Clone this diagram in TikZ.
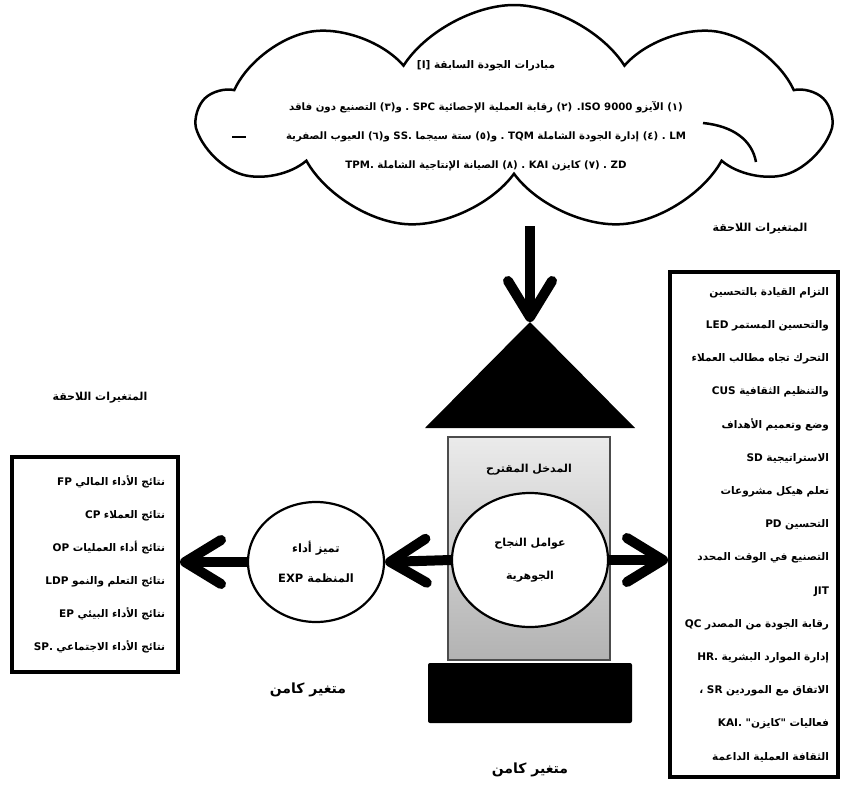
\documentclass[tikz,border=0pt]{standalone}
\usepackage{fontspec}
\usetikzlibrary{shapes.symbols,shapes.geometric,arrows.meta}
\newfontfamily\arabicfont[Script=Arabic]{DejaVu Sans}
\TeXXeTstate=1
\newcommand\AR[1]{\beginR #1\endR}
\newcommand\LT[1]{\beginL #1\endL{}}
\begin{document}
\begin{tikzpicture}[x=1pt,y=-1pt,
  ar/.style={font=\arabicfont\bfseries\fontsize{10.5}{12}\selectfont, align=center, inner sep=1pt},
  arsmall/.style={font=\arabicfont\bfseries\fontsize{11}{13}\selectfont, inner sep=1pt},
  arbig/.style={font=\arabicfont\bfseries\fontsize{14}{16}\selectfont, inner sep=1pt},
  listbox/.style={draw, line width=4pt, align=right, inner sep=3pt},
  oval/.style={ellipse, draw, line width=2.2pt, fill=white, align=center, inner sep=0pt},
  bigarrow/.style={line width=10pt, -{Straight Barb[length=36pt,width=44pt,round]}}
]
\useasboundingbox (0,0) rectangle (841,787);
% cloud
\node[cloud, draw, line width=2.5pt, cloud puffs=9, cloud puff arc=115, aspect=2.7,
      minimum width=628pt, minimum height=226pt] (cl) at (514,118) {};
\draw[line width=2.5pt] (703,123) .. controls (733,126) and (752,140) .. (756,162);
\draw[line width=2.5pt] (232,137) -- (246,137);
\coordinate (clbot) at (530,226);
\node[ar] (cltitle) at (486,66) {\AR{مبادرات الجودة السابقة [I]}};
\node[ar, font=\arabicfont\bfseries\fontsize{10.2}{29}\selectfont] (cllines) at (486,136)
  {\AR{(١) الآيزو \LT{ISO 9000}. (٢) رقابة العملية الإحصائية SPC . و(٣) التصنيع دون فاقد}\\
   \AR{LM . (٤) إدارة الجودة الشاملة TQM . و(٥) ستة سيجما SS. و(٦) العيوب الصفرية}\\
   \AR{ZD . (٧) كايزن KAI . (٨) الصيانة الإنتاجية الشاملة TPM.}};
% labels
\node[arsmall] (rlabel) at (760,229) {\AR{المتغيرات اللاحقة}};
\node[arsmall] (llabel) at (100,398) {\AR{المتغيرات اللاحقة}};
% triangle
\coordinate (apex) at (530,322);
\fill (425,428) -- (apex) -- (635,428) -- cycle;
% grey box
\node[draw=black!70, line width=1.2pt, top color=black!8, bottom color=black!30,
      minimum width=162pt, minimum height=223pt] (gbox) at (529,548.5) {};
\node[ar, font=\arabicfont\bfseries\fontsize{11}{13}\selectfont] (gtitle) at (529,470) {\AR{المدخل المقترح}};
\node[oval, minimum width=156pt, minimum height=134pt,
      font=\arabicfont\bfseries\fontsize{11}{33}\selectfont] (core) at (530,560)
  {\AR{عوامل النجاح}\\\AR{الجوهرية}};
% base
\node[fill=black, rounded corners=2pt, minimum width=204pt, minimum height=60pt] (base) at (530,693) {};
\node[arbig] (lat1) at (530,770) {\AR{متغير كامن}};
% left ellipse
\node[oval, minimum width=136pt, minimum height=120pt,
      font=\arabicfont\bfseries\fontsize{11.5}{30}\selectfont] (exp) at (316,562)
  {\AR{تميز أداء}\\\AR{المنظمة EXP}};
\node[arbig] (lat2) at (308,690) {\AR{متغير كامن}};
% right box
\node[listbox, minimum width=168pt, minimum height=505pt, text width=150pt,
      font=\arabicfont\bfseries\fontsize{10.5}{33.2}\selectfont] (rbox) at (754,524.5)
  {\AR{التزام القيادة بالتحسين}\\
   \AR{والتحسين المستمر LED}\\
   \AR{التحرك تجاه مطالب العملاء}\\
   \AR{والتنظيم الثقافية CUS}\\
   \AR{وضع وتعميم الأهداف}\\
   \AR{الاستراتيجية SD}\\
   \AR{تعلم هيكل مشروعات}\\
   \AR{التحسين PD}\\
   \AR{التصنيع في الوقت المحدد}\\
   \AR{JIT}\\
   \AR{رقابة الجودة من المصدر QC}\\
   \AR{إدارة الموارد البشرية HR.}\\
   \AR{الاتفاق مع الموردين SR ،}\\
   \AR{فعاليات "كايزن" KAI.}\\
   \AR{الثقافة العملية الداعمة}};
% left box
\node[listbox, minimum width=166pt, minimum height=215pt, text width=140pt,
      font=\arabicfont\bfseries\fontsize{10.5}{33}\selectfont] (lbox) at (95,564.5)
  {\AR{نتائج الأداء المالي FP}\\
   \AR{نتائج العملاء CP}\\
   \AR{نتائج أداء العمليات OP}\\
   \AR{نتائج التعلم والنمو LDP}\\
   \AR{نتائج الأداء البيئي EP}\\
   \AR{نتائج الأداء الاجتماعي SP.}};
% arrows
\draw[bigarrow] (clbot) -- (apex);
\draw[bigarrow] (core.west) -- (exp.east);
\draw[bigarrow] (core.east) -- (core.east -| rbox.west);
\draw[bigarrow] (exp.west) -- (exp.west -| lbox.east);
\end{tikzpicture}
\end{document}
